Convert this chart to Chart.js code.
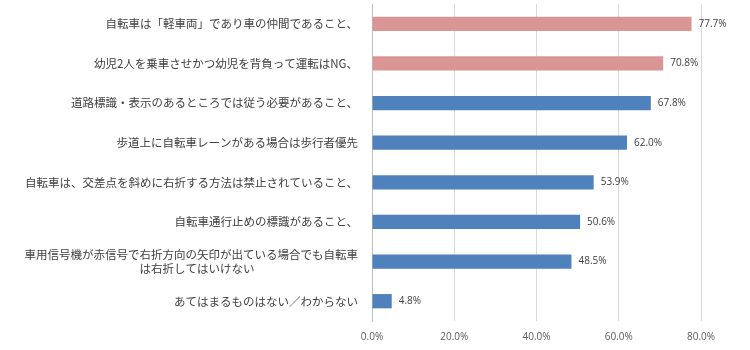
<!DOCTYPE html>
<html lang="ja">
<head>
<meta charset="utf-8">
<title>自転車ルールの認知度</title>
<script src="https://cdn.jsdelivr.net/npm/chart.js@4/dist/chart.umd.min.js"></script>
<style>
    html, body { margin: 0; padding: 0; background: #fff; }
    #wrap { width: 750px; height: 350px; position: relative; }
</style>
</head>
<body>
<div id="wrap"><canvas id="chart"></canvas></div>
<script>
// ------------------------------------------------------------------------
// Data
// ------------------------------------------------------------------------
const categories = [
    '自転車は「軽車両」であり車の仲間であること、',
    '幼児2人を乗車させかつ幼児を背負って運転はNG、',
    '道路標識・表示のあるところでは従う必要があること、',
    '歩道上に自転車レーンがある場合は歩行者優先',
    '自転車は、交差点を斜めに右折する方法は禁止されていること、',
    '自転車通行止めの標識があること、',
    ['車用信号機が赤信号で右折方向の矢印が出ている場合でも自転車', 'は右折してはいけない'],
    'あてはまるものはない／わからない'
];
const values = [77.7, 70.8, 67.8, 62.0, 53.9, 50.6, 48.5, 4.8];
const highlighted = [true, true, false, false, false, false, false, false];
const xTicks = [0, 20, 40, 60, 80];

// ------------------------------------------------------------------------
// Chart
// ------------------------------------------------------------------------
const PINK = '#D99694';
const BLUE = '#4F81BD';
const JP_FONT = '"Noto Sans CJK JP", "Noto Sans", sans-serif';
const NUM_FONT = '"Open Sans", "Liberation Sans", sans-serif';

// the second line of the long label is centred under the first one
const labels = categories.map(c => {
    if (!Array.isArray(c)) return c;
    const pad = '\u3000'.repeat(Math.round((c[0].length - c[1].length) / 2) - 1);
    return [c[0], c[1] + pad];
});

// value labels at the end of each bar
const valueLabels = {
    id: 'valueLabels',
    afterDatasetsDraw(chart) {
        const ctx = chart.ctx;
        const meta = chart.getDatasetMeta(0);
        ctx.save();
        ctx.font = '10px ' + NUM_FONT;
        ctx.fillStyle = '#404040';
        ctx.textAlign = 'left';
        ctx.textBaseline = 'middle';
        meta.data.forEach((bar, i) => {
            ctx.fillText(values[i].toFixed(1) + '%', bar.x + 7, bar.y);
        });
        ctx.restore();
    }
};

new Chart(document.getElementById('chart'), {
    type: 'bar',
    data: {
        labels,
        datasets: [{
            data: values,
            backgroundColor: values.map((v, i) => highlighted[i] ? PINK : BLUE),
            barPercentage: 0.36,
            categoryPercentage: 1.0
        }]
    },
    options: {
        indexAxis: 'y',
        responsive: true,
        maintainAspectRatio: false,
        animation: false,
        layout: { padding: { top: 4, right: 49, bottom: 7, left: 0 } },
        scales: {
            x: {
                min: 0,
                max: 80,
                afterBuildTicks(scale) {
                    scale.ticks = xTicks.map(v => ({ value: v }));
                },
                afterFit(scale) {
                    scale.height = 22;
                    scale.paddingLeft = 0;
                    scale.paddingRight = 0;
                },
                grid: { color: '#D9D9D9', drawTicks: false },
                border: { display: false },
                ticks: {
                    padding: 10,
                    maxRotation: 0,
                    color: '#595959',
                    font: { family: NUM_FONT, size: 10 },
                    callback: v => v.toFixed(1) + '%'
                }
            },
            y: {
                afterFit(scale) {
                    scale.width = 372;
                    // the tick padding should not shrink the plot vertically
                    scale.paddingTop = 0;
                    scale.paddingBottom = 0;
                },
                grid: { display: false, drawTicks: false },
                border: { color: '#BFBFBF' },
                ticks: {
                    padding: 14,
                    color: '#404040',
                    font: { family: JP_FONT, size: 11.5 }
                }
            }
        },
        plugins: {
            legend: { display: false },
            tooltip: { enabled: false }
        }
    },
    plugins: [valueLabels]
});
</script>
</body>
</html>
